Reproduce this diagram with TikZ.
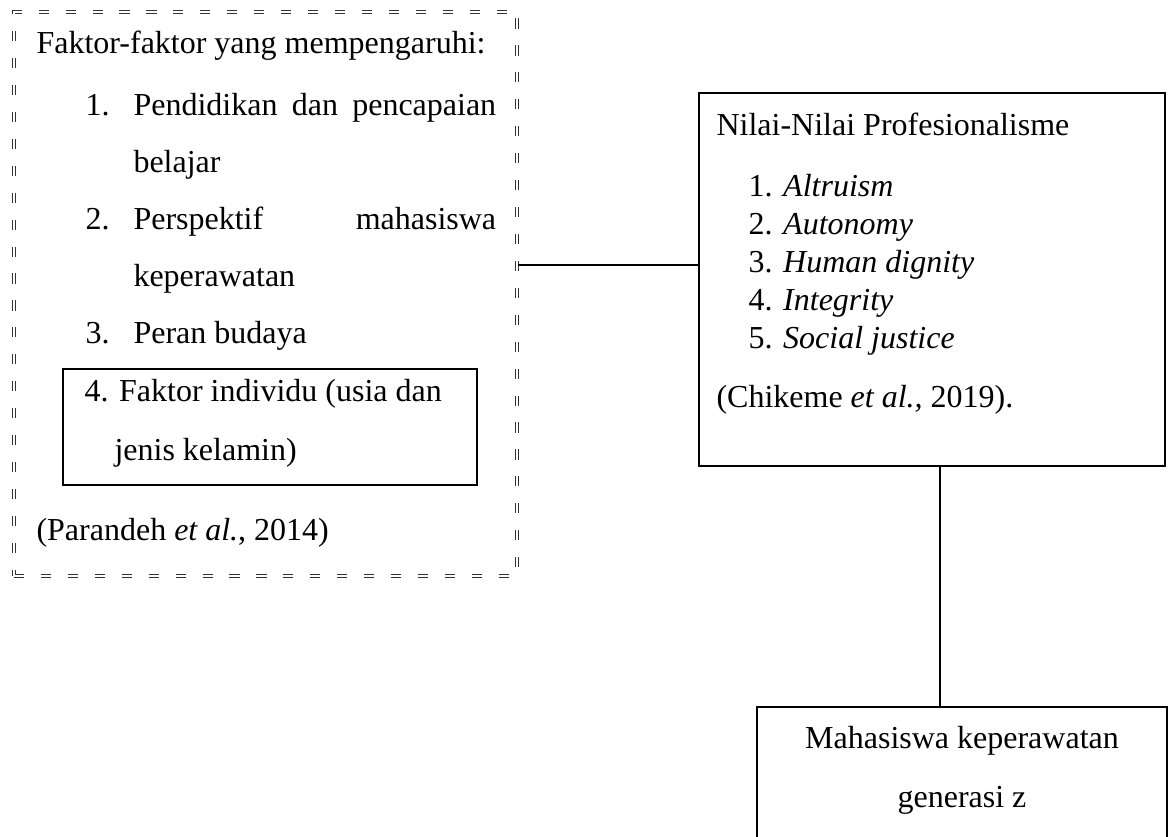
\documentclass[tikz,border=0pt]{standalone}
\usepackage{fontspec}
\setmainfont{Liberation Serif}
\usetikzlibrary{fit}

\begin{document}
\begin{tikzpicture}[x=0.375pt,y=-0.375pt,
    txt/.style={anchor=base west,inner sep=0pt,font=\fontsize{12}{14}\selectfont},
    box/.style={draw,line width=0.7pt,inner sep=0pt},
    dbox/.style={draw=black!80,double,line width=0.45pt,double distance=0.6pt,dash pattern=on 3.8pt off 6.3pt,inner sep=0pt},
    link/.style={line width=0.7pt}]
    \clip (0,0) rectangle (1171,836);
    % faktor-faktor
    \node[dbox,fit={(14,12) (517,576)}] (dashbox) {};
    \node[box,fit={(63,369) (477,485)}] (indbox) {};
    \node[txt] (faktor) at (36,53) {Faktor-faktor yang mempengaruhi:};
    \node[txt] (item1a) at (85,115) {\makebox[18pt][l]{1.}\makebox[136pt][s]{Pendidikan dan pencapaian}};
    \node[txt] (item1b) at (133,172) {belajar};
    \node[txt] (item2a) at (85,229) {\makebox[18pt][l]{2.}\makebox[136pt][s]{Perspektif mahasiswa}};
    \node[txt] (item2b) at (133,286) {keperawatan};
    \node[txt] (item3) at (85,343) {\makebox[18pt][l]{3.}Peran budaya};
    \node[txt] (item4a) at (84,401) {4. Faktor individu (usia dan};
    \node[txt] (item4b) at (114,460) {jenis kelamin)};
    \node[txt] (parandeh) at (36,540) {(Parandeh \textit{et al.}, 2014)};
    % nilai profesionalisme
    \node[box,fit={(699,93) (1165,466)}] (nilaibox) {};
    \node[txt] (nilai) at (716,135) {Nilai-Nilai Profesionalisme};
    \foreach \t [count=\i] in {Altruism,Autonomy,Human dignity,Integrity,Social justice}
        \node[txt] (val\i) at (748,158+38*\i) {\makebox[13pt][l]{\i.}\textit{\t}};
    \node[txt] (chikeme) at (716,407) {(Chikeme \textit{et al.,} 2019).};
    % generasi z
    \node[box,fit={(757,707) (1167,870)}] (genbox) {};
    \node[txt,anchor=base] (mhs) at (962,748) {Mahasiswa keperawatan};
    \node[txt,anchor=base] (gen) at (962,807) {generasi z};
    % garis
    \coordinate (jn) at (0,265);
    \coordinate (vx) at (940,0);
    \draw[link] (dashbox.east |- jn) -- (nilaibox.west |- jn);
    \draw[link] (nilaibox.south -| vx) -- (genbox.north -| vx);
\end{tikzpicture}
\end{document}
